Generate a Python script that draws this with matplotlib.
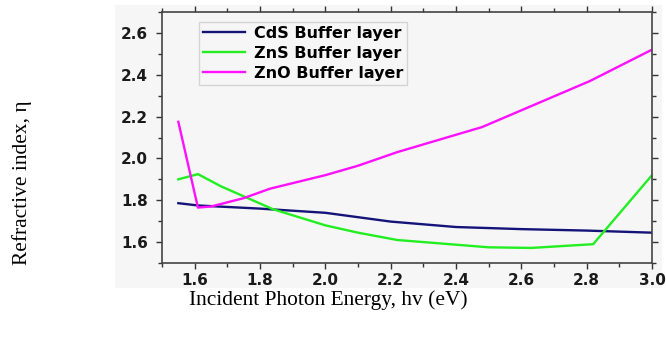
import matplotlib
matplotlib.use("Agg")
import matplotlib.pyplot as plt
from matplotlib.ticker import MultipleLocator

cds_x = [1.55, 1.61, 1.8, 2.0, 2.2, 2.4, 2.6, 2.8, 3.0]
cds_y = [1.786, 1.775, 1.76, 1.74, 1.698, 1.672, 1.662, 1.655, 1.645]

zns_x = [1.55, 1.61, 1.68, 1.84, 2.0, 2.1, 2.22, 2.5, 2.63, 2.82, 3.0]
zns_y = [1.90, 1.925, 1.867, 1.757, 1.68, 1.645, 1.61, 1.575, 1.572, 1.59, 1.92]

zno_x = [1.55, 1.61, 1.65, 1.75, 1.83, 2.0, 2.1, 2.22, 2.48, 2.81, 3.0]
zno_y = [2.175, 1.765, 1.77, 1.81, 1.855, 1.92, 1.965, 2.03, 2.15, 2.37, 2.52]

labels = ["CdS Buffer layer", "ZnS Buffer layer", "ZnO Buffer layer"]
colors = ["#141478", "#22ee22", "#ff10ff"]

fig = plt.figure(figsize=(6.66, 3.41), dpi=100)
bg = fig.add_axes([115/666, 1-288/341, 547/666, 283/341], zorder=-5)
bg.set_facecolor("#f6f6f6")
bg.set_xticks([])
bg.set_yticks([])
for s in bg.spines.values():
    s.set_visible(False)

ax = fig.add_axes([162/666, 1-263/341, 490/666, 251/341], zorder=1)
ax.set_facecolor("none")

ax.plot(cds_x, cds_y, color=colors[0], lw=1.7, label=labels[0])
ax.plot(zns_x, zns_y, color=colors[1], lw=1.7, label=labels[1])
ax.plot(zno_x, zno_y, color=colors[2], lw=1.7, label=labels[2])

ax.set_xlim(1.5, 3.0)
ax.set_ylim(1.5, 2.7)
ax.set_xticks([1.6, 1.8, 2.0, 2.2, 2.4, 2.6, 2.8, 3.0])
ax.set_yticks([1.6, 1.8, 2.0, 2.2, 2.4, 2.6])
ax.xaxis.set_minor_locator(MultipleLocator(0.1))
ax.yaxis.set_minor_locator(MultipleLocator(0.1))
ax.tick_params(which="both", direction="out", top=True, right=True,
               labeltop=False, labelright=False, color="#333333")
ax.tick_params(which="major", length=4, width=1)
ax.tick_params(which="minor", length=3, width=1)
ax.tick_params(axis="y", which="major", pad=6)
for lab in ax.get_xticklabels() + ax.get_yticklabels():
    lab.set_fontweight("bold")
    lab.set_fontsize(11)
    lab.set_color("#1a1a1a")
for s in ax.spines.values():
    s.set_color("#444444")
    s.set_linewidth(1.2)

leg = ax.legend(loc="upper left", bbox_to_anchor=(37/490, 1 - 10/251), frameon=True,
                prop={"weight": "bold", "size": 11.5}, handlelength=2.6,
                handletextpad=0.6, borderpad=0.25, borderaxespad=0.0,
                labelspacing=0.3, fancybox=False)
leg.get_frame().set_edgecolor("#cccccc")
leg.get_frame().set_facecolor("#f6f6f6")

fig.text(328/666, 1-300/341, "Incident Photon Energy, hv (eV)", ha="center", va="center",
         family="Liberation Serif", fontsize=15.4)
fig.text(22/666, 1-183/341, "Refractive index, η", ha="center", va="center",
         rotation=90, family="Liberation Serif", fontsize=15.4)

fig.savefig("out.png", dpi=100)
